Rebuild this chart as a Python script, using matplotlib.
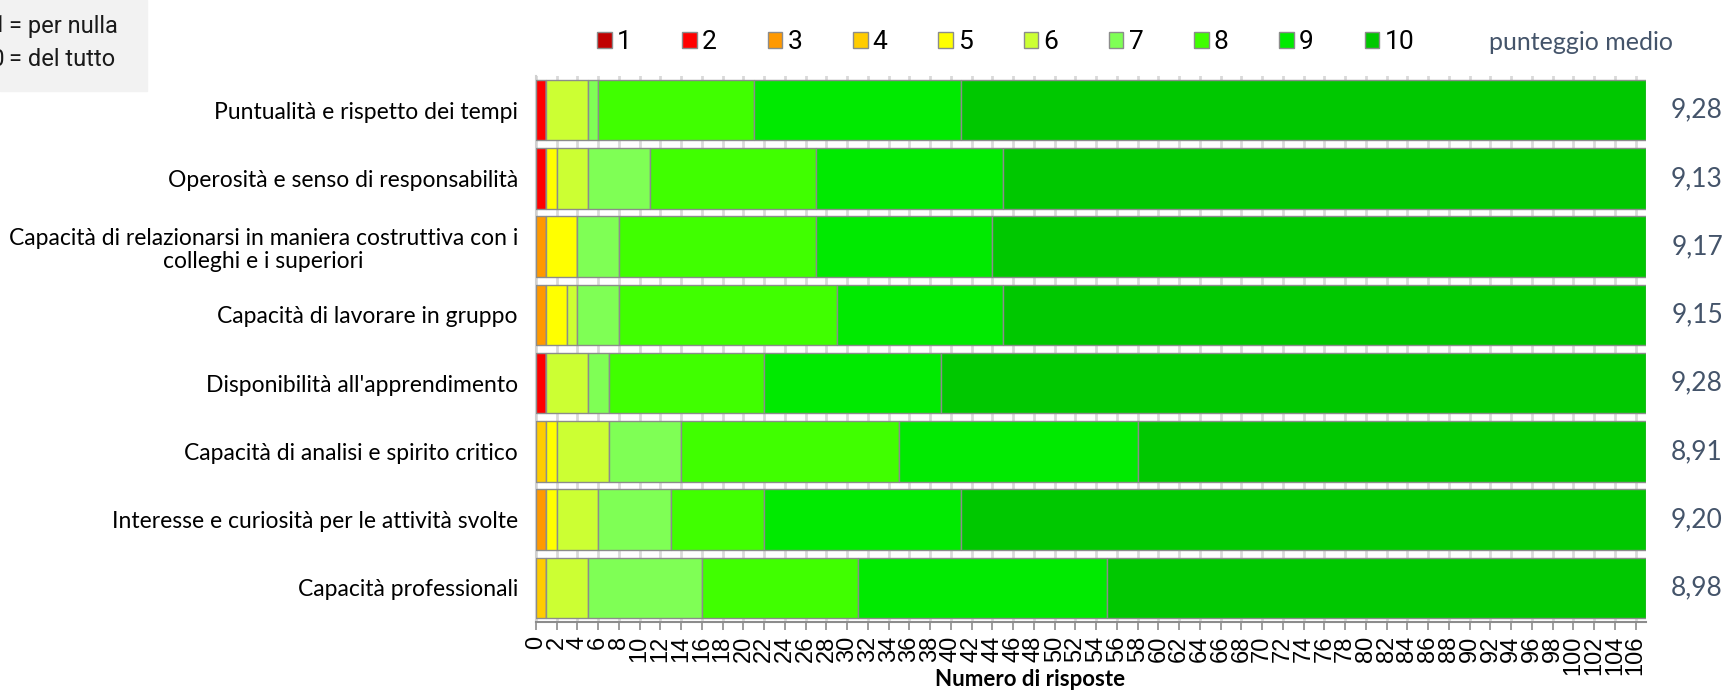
import numpy as np
import matplotlib
matplotlib.use("Agg")
import matplotlib.pyplot as plt
from matplotlib import font_manager as fm
from matplotlib.transforms import blended_transform_factory

# ---- data ----
categories = [
    "Puntualità e rispetto dei tempi",
    "Operosità e senso di responsabilità",
    "Capacità di relazionarsi in maniera costruttiva con i\ncolleghi e i superiori",
    "Capacità di lavorare in gruppo",
    "Disponibilità all'apprendimento",
    "Capacità di analisi e spirito critico",
    "Interesse e curiosità per le attività svolte",
    "Capacità professionali",
]
scores = ["1", "2", "3", "4", "5", "6", "7", "8", "9", "10"]
# counts per score (rows = categories, columns = score 1..10)
s1 = [0, 0, 0, 0, 0, 0, 0, 0]
s2 = [1, 1, 0, 0, 1, 0, 0, 0]
s3 = [0, 0, 1, 1, 0, 0, 1, 0]
s4 = [0, 0, 0, 0, 0, 1, 0, 1]
s5 = [0, 1, 3, 2, 0, 1, 1, 0]
s6 = [4, 3, 0, 1, 4, 5, 4, 4]
s7 = [1, 6, 4, 4, 2, 7, 7, 11]
s8 = [15, 16, 19, 21, 15, 21, 9, 15]
s9 = [20, 18, 17, 16, 17, 23, 19, 24]
s10 = [66, 62, 63, 62, 68, 49, 66, 52]
mean_scores = ["9,28", "9,13", "9,17", "9,15", "9,28", "8,91", "9,20", "8,98"]

colors = ["#C00000", "#FF0000", "#FF9900", "#FFCC00", "#FFFF00",
          "#CCFF33", "#7FFF55", "#40FF00", "#00EA00", "#00C800"]

installed = {f.name for f in fm.fontManager.ttflist}
def pick(*names):
    return [n for n in names if n in installed] + ["DejaVu Sans"]

body_font = pick("Lato", "Open Sans")
tick_font = pick("Liberation Sans")
narrow_font = pick("Liberation Sans Narrow", "Roboto", "Liberation Sans")

W, H = 1726, 693
fig = plt.figure(figsize=(W / 100, H / 100), dpi=100)
ax = fig.add_axes([536 / W, 1 - 622 / H, 1110 / W, 546 / H])

counts = np.array([s1, s2, s3, s4, s5, s6, s7, s8, s9, s10])
y = np.arange(len(categories))
left = np.zeros(len(categories))
handles = []
for k, lab in enumerate(scores):
    bars = ax.barh(y, counts[k], left=left, height=0.89, color=colors[k],
                   edgecolor="#8C8C8C", linewidth=1.0, label=lab, zorder=3)
    handles.append(bars)
    left += counts[k]

total = left.max()
ax.set_xlim(0, total)
ax.set_ylim(len(categories) - 0.5, -0.5)
ax.set_xticks(np.arange(0, 107, 2))
ax.set_xticklabels([str(v) for v in range(0, 107, 2)], rotation=90,
                   fontsize=17, family=tick_font)
ax.tick_params(axis="x", length=6, width=1.2, color="#8C8C8C", pad=4)
ax.set_yticks(y)
ax.set_yticklabels(categories, fontsize=16.5, family=body_font,
                   multialignment="center", linespacing=1.15)
ax.tick_params(axis="y", length=0, pad=13)
ax.grid(axis="x", color="#D9D9D9", linewidth=2, zorder=0)
ax.set_axisbelow(True)
for s in ["top", "right"]:
    ax.spines[s].set_visible(False)
ax.spines["left"].set_color("#D0D0D0")
ax.spines["left"].set_linewidth(1.5)
ax.spines["bottom"].set_color("#8C8C8C")
ax.spines["bottom"].set_linewidth(1.5)

ax.set_xlabel("Numero di risposte", fontsize=16, fontweight="bold",
              family=body_font)
ax.xaxis.set_label_coords((1030 - 536) / 1110, (622 - 680) / 546)
ax.xaxis.label.set_va("center")

# average score column
tr = blended_transform_factory(ax.transAxes, ax.transData)
for yi, m in zip(y, mean_scores):
    ax.text((1697 - 536) / 1110, yi, m, transform=tr, ha="center", va="center",
            fontsize=19, color="#44546A", family=body_font, clip_on=False)
fig.text(1581 / W, 1 - 42 / H, "punteggio medio", ha="center", va="center",
         fontsize=18, color="#44546A", family=body_font)

leg = fig.legend(handles=handles, labels=scores, ncol=10, frameon=False,
                 loc="center left", bbox_to_anchor=(597 / W, 1 - 42 / H),
                 borderpad=0, borderaxespad=0, handlelength=0.55,
                 handleheight=0.55, handletextpad=0.2, columnspacing=1.92,
                 prop={"family": narrow_font, "size": 19})

# scale note box, cut at the left edge as in the reference
fig.patches.append(plt.Rectangle((0, 1 - 91 / H), 147 / W, 91 / H,
                                 transform=fig.transFigure, color="#F2F2F2",
                                 zorder=0))
for yy, num, txt in [(26, "1", "= per nulla"), (60, "10", "= del tutto")]:
    fig.text(5 / W, 1 - yy / H, num, ha="right", va="center", fontsize=17,
             family=narrow_font, color="#1A1A1A")
    fig.text(9 / W, 1 - yy / H, txt, ha="left", va="center", fontsize=17,
             family=narrow_font, color="#1A1A1A")

fig.savefig("out.png", dpi=100)
